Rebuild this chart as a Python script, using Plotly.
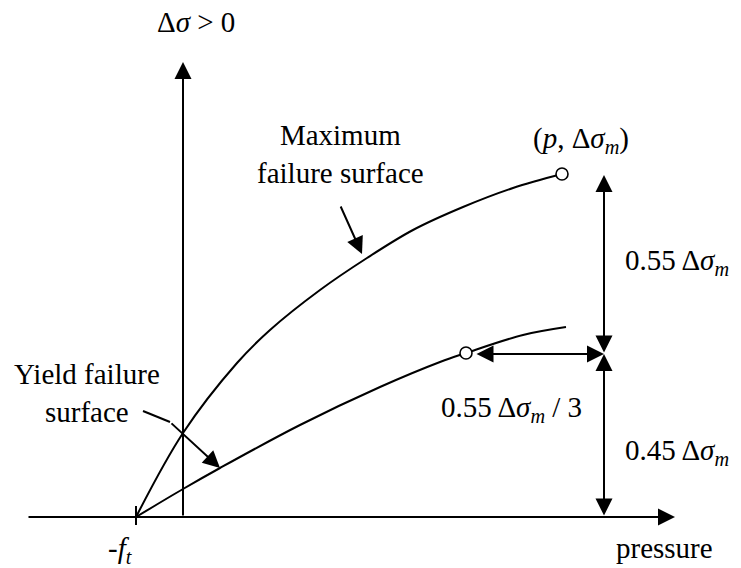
import plotly.graph_objects as go

# Failure surfaces in the (pressure, delta-sigma) plane
max_p = [-0.47, 0.00, 0.54, 0.87, 1.37, 1.84, 2.30, 2.80, 3.30, 3.79]
max_ds = [0.00, 0.84, 1.54, 1.87, 2.27, 2.59, 2.87, 3.10, 3.29, 3.43]

yield_p = [-0.47, 0.00, 0.37, 1.17, 1.97, 2.57, 2.83, 3.40, 3.83]
yield_ds = [0.00, 0.28, 0.49, 0.92, 1.30, 1.55, 1.64, 1.82, 1.90]

# Key points
ft = 0.47                       # tensile strength (axis intercept at -ft)
peak_p, peak_ds = 3.79, 3.43    # (p, dsigma_m)
yld_p, yld_ds = 2.83, 1.64      # yield point on the yield surface
dim_x = 4.21                    # position of the dimension lines
split_ds = 1.63                 # 0.45 dsigma_m level

LW = 2
fig = go.Figure()

# tick marking -ft on the pressure axis
fig.add_trace(go.Scatter(x=[-ft, -ft], y=[-0.08, 0.11], mode="lines",
                         line=dict(color="black", width=LW), hoverinfo="skip"))
# surfaces
fig.add_trace(go.Scatter(x=max_p, y=max_ds, mode="lines",
                         line=dict(color="black", width=LW, shape="spline"), hoverinfo="skip"))
fig.add_trace(go.Scatter(x=yield_p, y=yield_ds, mode="lines",
                         line=dict(color="black", width=LW, shape="spline"), hoverinfo="skip"))
# leader line for the yield label (first segment)
fig.add_trace(go.Scatter(x=[-0.40, -0.13], y=[1.06, 0.95], mode="lines",
                         line=dict(color="black", width=LW), hoverinfo="skip"))
# open circles
fig.add_trace(go.Scatter(x=[peak_p, yld_p], y=[peak_ds, yld_ds], mode="markers",
                         marker=dict(symbol="circle", size=12, color="white",
                                     line=dict(color="black", width=1.6)),
                         hoverinfo="skip"))

def arrow(x0, y0, x1, y1, both=False):
    fig.add_annotation(x=x1, y=y1, ax=x0, ay=y0, xref="x", yref="y",
                       axref="x", ayref="y", text="", showarrow=True,
                       arrowhead=2, startarrowhead=2,
                       arrowsize=1.7, startarrowsize=1.7,
                       arrowwidth=LW, arrowcolor="black",
                       arrowside="end+start" if both else "end",
                       standoff=0, startstandoff=0)

arrow(-1.56, 0, 4.92, 0)            # pressure axis
arrow(0, 0, 0, 4.55)                # delta-sigma axis
arrow(dim_x, split_ds, dim_x, peak_ds - 0.01, both=True)
arrow(dim_x, 0, dim_x, split_ds, both=True)
arrow(yld_p + 0.09, split_ds, dim_x, split_ds, both=True)
arrow(1.57, 3.12, 1.79, 2.63)       # to maximum surface
arrow(-0.13, 0.95, 0.37, 0.49)      # to yield surface

FONT = dict(family="Liberation Serif", size=29, color="black")

def label(x, y, text, xanchor="center"):
    fig.add_annotation(x=x, y=y, xref="x", yref="y", text=text, showarrow=False,
                       xanchor=xanchor, yanchor="middle", font=FONT, align="center")

label(0.13, 4.95, "Δ<i>σ</i> &gt; 0")
label(3.98, 3.77, "(<i>p</i>, Δ<i>σ<sub>m</sub></i>)")
label(1.57, 3.63, "Maximum<br>failure surface")
label(-0.96, 1.24, "Yield failure<br>surface")
label(4.40, 2.55, "0.55 Δ<i>σ<sub>m</sub></i>", xanchor="left")
label(4.01, 1.08, "0.55 Δ<i>σ<sub>m</sub></i> / 3", xanchor="right")
label(4.40, 0.65, "0.45 Δ<i>σ<sub>m</sub></i>", xanchor="left")
label(4.81, -0.31, "pressure")
label(-0.63, -0.33, "-<i>f<sub>t</sub></i>")

fig.update_layout(
    width=741, height=568,
    margin=dict(l=0, r=0, t=0, b=0),
    paper_bgcolor="white", plot_bgcolor="white",
    showlegend=False,
    xaxis=dict(range=[-1.83, 5.58], visible=False, fixedrange=True),
    yaxis=dict(range=[-0.51, 5.17], visible=False, fixedrange=True),
)

fig.write_html("out.html")
